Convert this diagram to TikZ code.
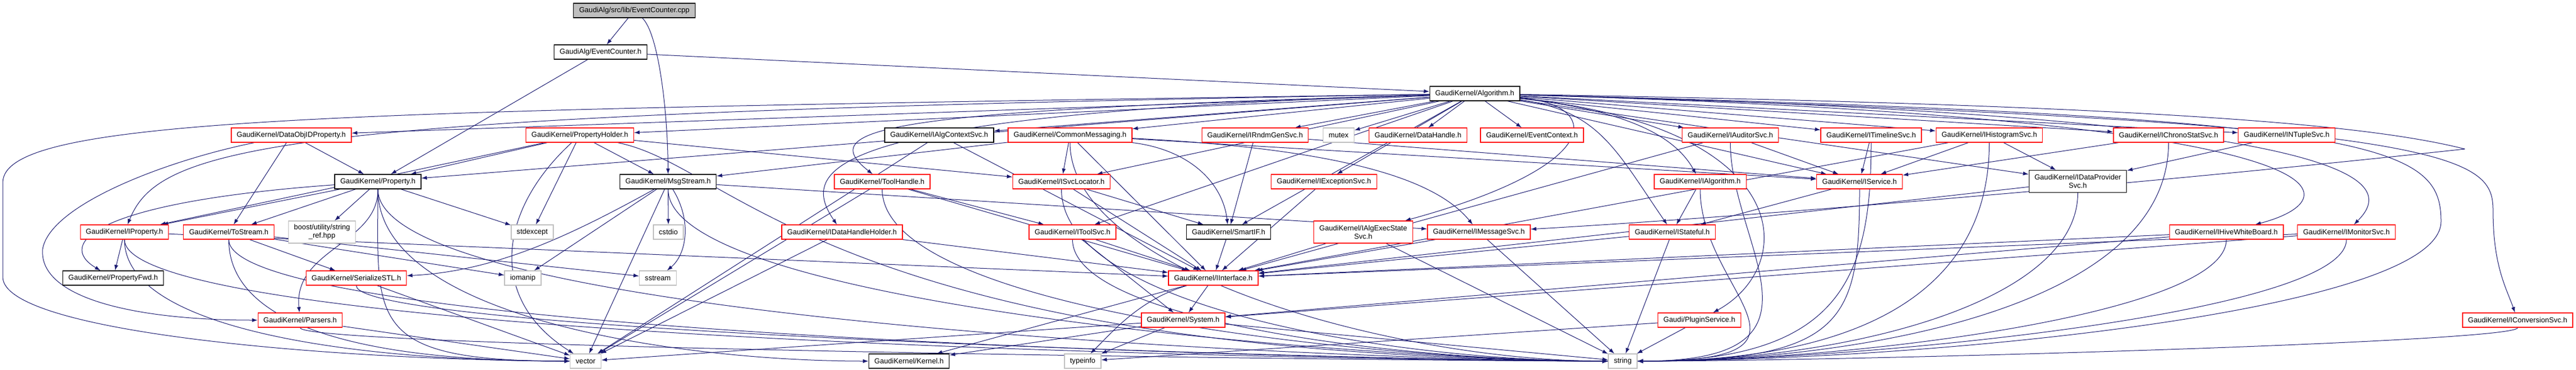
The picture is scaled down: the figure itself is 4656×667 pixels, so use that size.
\documentclass[tikz,border=0pt]{standalone}
\usepackage{fontspec}
\setmainfont{Liberation Sans}
\usetikzlibrary{arrows.meta}
\tikzset{>={Latex[length=10pt,width=7pt]}}
\definecolor{midnight}{rgb}{0.1,0.1,0.44}
\definecolor{extgray}{rgb}{0.75,0.75,0.75}
\pgfdeclarelayer{edges}
\pgfsetlayers{edges,main}
\tikzstyle{header}  = [rectangle, draw=black, fill=white, line width=1.3pt, inner xsep=10pt, inner ysep=0pt, minimum height=26pt, text centered, font=\fontsize{13.1}{15}\selectfont]
\tikzstyle{trunc}   = [header, draw=red]
\tikzstyle{stdlib}  = [header, draw=extgray]
\tikzstyle{source}  = [header, fill=extgray]
\tikzstyle{twoline} = [align=center, minimum height=40pt]
\tikzstyle{edge}    = [draw=midnight, line width=1pt]
\tikzstyle{dep}     = [edge, ->]
\tikzset{lowrun/.style={to path={.. controls +(0,#1) and +(-400,0) .. (\tikztotarget) \tikztonodes}},
         rightrun/.style={to path={.. controls +(0,#1) and +(400,0) .. (\tikztotarget) \tikztonodes}}}

\begin{document}
\begin{tikzpicture}[x=1pt, y=-1pt]
  \useasboundingbox (0,0) rectangle (4656,667);
  % top of the graph
  \node[source] (cpp) at (1146.5,19) {GaudiAlg/src/lib/EventCounter.cpp};
  \node[header] (evh) at (1085.5,94) {GaudiAlg/EventCounter.h};
  \node[header] (alg) at (2665.5,169) {GaudiKernel/Algorithm.h};
  % headers included by Algorithm.h
  \node[trunc]  (dataobj)    at (526.5,244)  {GaudiKernel/DataObjIDProperty.h};
  \node[trunc]  (propholder) at (1048,244)   {GaudiKernel/PropertyHolder.h};
  \node[header] (algctx)     at (1697.5,244) {GaudiKernel/IAlgContextSvc.h};
  \node[trunc]  (commsg)     at (1934,244)   {GaudiKernel/CommonMessaging.h};
  \node[trunc]  (rndm)       at (2268.5,244) {GaudiKernel/IRndmGenSvc.h};
  \node[stdlib] (mutex)      at (2419.5,244) {mutex};
  \node[trunc]  (datahandle) at (2563,244)   {GaudiKernel/DataHandle.h};
  \node[trunc]  (evctx)      at (2769,244)   {GaudiKernel/EventContext.h};
  \node[trunc]  (auditor)    at (3127.5,244) {GaudiKernel/IAuditorSvc.h};
  \node[trunc]  (timeline)   at (3382,244)   {GaudiKernel/ITimelineSvc.h};
  \node[trunc]  (histo)      at (3595.5,244) {GaudiKernel/IHistogramSvc.h};
  \node[trunc]  (chrono)     at (3919.5,244) {GaudiKernel/IChronoStatSvc.h};
  \node[trunc]  (ntuple)     at (4133,244)   {GaudiKernel/INTupleSvc.h};
  % second level
  \node[header] (property)   at (683,328)    {GaudiKernel/Property.h};
  \node[header] (msgstream)  at (1207.5,328) {GaudiKernel/MsgStream.h};
  \node[trunc]  (toolhandle) at (1594.5,328) {GaudiKernel/ToolHandle.h};
  \node[trunc]  (svcloc)     at (1918.5,328) {GaudiKernel/ISvcLocator.h};
  \node[trunc]  (exception)  at (2393,328)   {GaudiKernel/IExceptionSvc.h};
  \node[trunc]  (ialg)       at (3073,328)   {GaudiKernel/IAlgorithm.h};
  \node[trunc]  (service)    at (3361,328)   {GaudiKernel/IService.h};
  \node[header, twoline] (dataprov) at (3755.5,327.5) {GaudiKernel/IDataProvider\\Svc.h};
  % third level
  \node[trunc]  (iprop)      at (225,419)    {GaudiKernel/IProperty.h};
  \node[trunc]  (tostream)   at (413.5,419)  {GaudiKernel/ToStream.h};
  \node[stdlib, twoline] (boost) at (582,419) {boost/utility/string\\\_ref.hpp};
  \node[stdlib] (stdexcept)  at (962,419)    {stdexcept};
  \node[stdlib] (cstdio)     at (1208,419)   {cstdio};
  \node[trunc]  (dhholder)   at (1522,419)   {GaudiKernel/IDataHandleHolder.h};
  \node[trunc]  (toolsvc)    at (1938.5,419) {GaudiKernel/IToolSvc.h};
  \node[header] (smartif)    at (2220.5,419) {GaudiKernel/SmartIF.h};
  \node[trunc, twoline] (execstate) at (2464,419) {GaudiKernel/IAlgExecState\\Svc.h};
  \node[trunc]  (msgsvc)     at (2673,419)   {GaudiKernel/IMessageSvc.h};
  \node[trunc]  (stateful)   at (3022.5,419) {GaudiKernel/IStateful.h};
  \node[trunc]  (hive)       at (4024,419)   {GaudiKernel/IHiveWhiteBoard.h};
  \node[trunc]  (monitor)    at (4241,419)   {GaudiKernel/IMonitorSvc.h};
  % fourth level
  \node[header] (propfwd)    at (204.5,502)  {GaudiKernel/PropertyFwd.h};
  \node[trunc]  (serial)     at (644,502)    {GaudiKernel/SerializeSTL.h};
  \node[stdlib] (iomanip)    at (945,502)    {iomanip};
  \node[stdlib] (sstream)    at (1189,502)   {sstream};
  \node[trunc]  (iface)      at (2193,502)   {GaudiKernel/IInterface.h};
  \node[trunc]  (parsers)    at (542.5,578)  {GaudiKernel/Parsers.h};
  \node[trunc]  (system)     at (2138.5,578) {GaudiKernel/System.h};
  \node[trunc]  (plugin)     at (3071.5,578) {Gaudi/PluginService.h};
  \node[trunc]  (conv)       at (4550.5,578) {GaudiKernel/IConversionSvc.h};
  % bottom row
  \node[stdlib] (vector)     at (1058.5,652) {vector};
  \node[header] (kernel)     at (1643,652)   {GaudiKernel/Kernel.h};
  \node[stdlib] (typeinfo)   at (1957,652)   {typeinfo};
  \node[stdlib] (string)     at (2933,652)   {string};
  \coordinate (merge) at (4455,269);

  \begin{pgfonlayer}{edges}
    \fill[white] (0,0) rectangle (4656,667);
    % root file
    \draw[dep] (cpp) -- (evh);
    \draw[dep] (cpp) .. controls (1190,60) and (1207,200) .. (msgstream);
    \draw[dep] (evh) -- (alg);
    \draw[dep] (evh) -- (property);
    % Algorithm.h
    \foreach \t in {dataobj,propholder,algctx,commsg,rndm,mutex,datahandle,evctx,auditor,timeline,histo,chrono,ntuple,property,svcloc,exception,service,dataprov,toolsvc,smartif}
      \draw[dep] (alg) -- (\t);
    \draw[dep] (alg) .. controls (1600,200) and (1470,230) .. (toolhandle);
    \draw[dep] (alg) .. controls (1500,205) and (1440,300) .. (dhholder);
    \draw[dep] (alg) .. controls (2900,190) and (2900,300) .. (execstate);
    \draw[dep] (alg) .. controls (2890,200) and (2920,270) .. (stateful);
    \draw[dep] (alg) .. controls (2950,200) and (3030,250) .. (ialg);
    \draw[dep] (alg) .. controls (3250,230) and (3250,480) .. (plugin);
    \draw[dep] (alg) .. controls (500,205) and (290,260) .. (iprop);
    \draw[dep] (alg) .. controls (600,200) and (5,210) .. (5,330) -- (5,500) .. controls (5,600) and (600,650) .. (vector);
    \draw[dep] (alg) .. controls (4300,210) and (4412,260) .. (4412,400) .. controls (4412,560) and (3500,650) .. (string);
    \draw[dep] (alg) .. controls (4440,220) and (4506,280) .. (4506,380) .. controls (4506,480) and (4530,520) .. (conv);
    \draw[dep] (alg) .. controls (4300,215) and (4250,360) .. (hive);
    \draw[dep] (alg) .. controls (4310,210) and (4330,330) .. (monitor);
    \draw[edge] (alg) .. controls (3900,190) and (4280,225) .. (merge);
    \draw[dep] (merge) .. controls (3800,340) and (3100,395) .. (msgsvc);
    % DataObjIDProperty.h and PropertyHolder.h
    \draw[dep] (dataobj) -- (property);
    \draw[dep] (dataobj) -- (tostream);
    \draw[dep] (dataobj) .. controls (300,290) and (90,370) .. (77,450) .. controls (70,540) and (250,578) .. (parsers);
    \foreach \t in {property,iprop,msgstream,stdexcept,svcloc}
      \draw[dep] (propholder) -- (\t);
    \draw[dep] (propholder) .. controls (900,380) and (880,540) .. (vector);
    \draw[dep] (propholder) .. controls (1330,300) and (1500,640) .. (string);
    % services
    \draw[dep] (algctx) -- (iface);
    \draw[dep] (algctx) -- (vector);
    \foreach \t in {msgstream,svcloc,service,iface}
      \draw[dep] (commsg) -- (\t);
    \draw[dep] (commsg) .. controls (2150,270) and (2210,330) .. (smartif);
    \draw[dep] (commsg) .. controls (2450,270) and (2600,330) .. (msgsvc);
    \draw[dep, lowrun=250] (commsg) to (string);
    \draw[dep] (rndm) -- (smartif);
    \draw[dep] (rndm) -- (service);
    \draw[dep] (auditor) -- (service);
    \draw[dep] (auditor) -- (iface);
    \draw[dep] (timeline) -- (service);
    \draw[dep] (histo) -- (service);
    \draw[dep] (histo) -- (dataprov);
    \draw[dep] (histo) -- (iface);
    \draw[dep] (chrono) -- (service);
    \draw[dep] (ntuple) -- (dataprov);
    \foreach \t/\d in {auditor/200,timeline/250,histo/300,chrono/320,ialg/200,service/250,dataprov/220,hive/150,monitor/150,conv/40}
      \draw[dep, rightrun=\d] (\t) to (string);
    % Property.h
    \foreach \t in {iprop,tostream,boost,stdexcept}
      \draw[dep] (property) -- (\t);
    \draw[dep] (property) .. controls (170,365) and (100,440) .. (propfwd);
    \draw[dep] (property) .. controls (684,440) and (530,450) .. (parsers);
    \draw[dep, lowrun=250] (property) to (vector);
    \draw[dep, lowrun=260] (property) to (string);
    \draw[dep, lowrun=250] (property) to (kernel);
    % MsgStream.h
    \foreach \t in {iomanip,cstdio,vector,msgsvc}
      \draw[dep] (msgstream) -- (\t);
    \draw[dep] (msgstream) .. controls (1040,420) and (900,490) .. (serial);
    \draw[dep] (msgstream) .. controls (1252,400) and (1240,460) .. (sstream);
    \draw[dep, lowrun=230] (msgstream) to (string);
    % tools and locators
    \draw[dep] (toolhandle) -- (toolsvc);
    \draw[dep] (toolhandle) -- (iface);
    \draw[dep] (toolhandle) -- (vector);
    \draw[dep, lowrun=240] (toolhandle) to (string);
    \draw[dep] (svcloc) -- (smartif);
    \draw[dep] (svcloc) -- (iface);
    \draw[dep, lowrun=230] (svcloc) to (string);
    \draw[dep] (exception) -- (iface);
    \draw[dep] (ialg) -- (stateful);
    \draw[dep] (service) -- (stateful);
    \draw[dep] (dataprov) -- (iface);
    % third level
    \draw[dep] (iprop) -- (propfwd);
    \draw[dep] (iprop) -- (iface);
    \draw[dep, lowrun=180] (iprop) to (vector);
    \draw[dep, lowrun=200] (iprop) to (string);
    \foreach \t in {serial,iomanip,sstream}
      \draw[dep] (tostream) -- (\t);
    \draw[dep, lowrun=170] (tostream) to (vector);
    \draw[dep, lowrun=190] (tostream) to (string);
    \draw[dep] (dhholder) -- (iface);
    \draw[dep] (dhholder) -- (vector);
    \draw[dep] (toolsvc) -- (iface);
    \draw[dep] (toolsvc) -- (system);
    \draw[dep, lowrun=160] (toolsvc) to (string);
    \draw[dep] (smartif) -- (iface);
    \foreach \s in {execstate,msgsvc,stateful,hive,monitor}
      \draw[dep] (\s) -- (iface);
    \foreach \s in {execstate,msgsvc,stateful}
      \draw[dep] (\s) -- (string);
    \draw[dep] (hive) -- (system);
    \draw[dep] (monitor) -- (system);
    % lower levels
    \draw[dep] (serial) -- (vector);
    \draw[dep, lowrun=100] (serial) to (string);
    \draw[dep] (iface) -- (system);
    \draw[dep] (iface) -- (kernel);
    \draw[dep] (iface) .. controls (2060,540) and (2010,600) .. (typeinfo);
    \draw[dep] (parsers) -- (vector);
    \draw[dep, lowrun=50] (parsers) to (string);
    \foreach \t in {kernel,typeinfo,string,vector}
      \draw[dep] (system) -- (\t);
    \draw[dep] (plugin) -- (string);
    \draw[dep] (plugin) -- (typeinfo);
  \end{pgfonlayer}
\end{tikzpicture}
\end{document}
